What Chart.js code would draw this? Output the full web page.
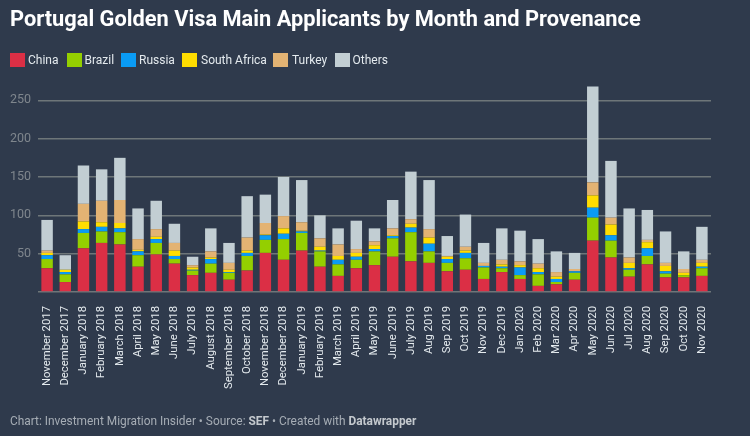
<!DOCTYPE html>
<html><head><meta charset="utf-8">
<script src="https://cdn.jsdelivr.net/npm/chart.js@4/dist/chart.umd.min.js"></script>
<style>
html,body{margin:0;padding:0;background:#2f3a4c;width:750px;height:436px;overflow:hidden;font-family:Roboto,sans-serif}
#wrap{position:relative;width:750px;height:436px}
canvas{position:absolute;left:0;top:0}
#title{position:absolute;left:10px;top:5px;font-size:21.8px;line-height:28px;font-weight:700;color:#fff;white-space:nowrap}
#legend{position:absolute;left:10px;top:52.5px;height:15px;font-size:12px;line-height:15px;color:#e4eaee;white-space:nowrap}
#legend span{position:absolute;top:0}
#legend i{position:absolute;top:0;width:14.5px;height:14.5px}
#foot{position:absolute;left:10px;top:413px;font-size:11.9px;line-height:16px;color:#a6adb5;white-space:nowrap}
#foot b{color:#c4c9ce;font-weight:700}
</style></head>
<body><div id="wrap">
<canvas id="c" width="750" height="436"></canvas>
<div id="title">Portugal Golden Visa Main Applicants by Month and Provenance</div>
<div id="legend"></div>
<div id="foot">Chart: Investment Migration Insider • Source: <b>SEF</b> • Created with <b>Datawrapper</b></div>
</div>
<script>
const months = ["November 2017","December 2017","January 2018","February 2018","March 2018","April 2018","May 2018","June 2018","July 2018","August 2018","September 2018","October 2018","November 2018","December 2018","January 2019","February 2019","March 2019","April 2019","May 2019","June 2019","July 2019","Aug 2019","Sep 2019","Oct 2019","Nov 2019","Dec 2019","Jan 2020","Feb 2020","Mar 2020","Apr 2020","May 2020","Jun 2020","Jul 2020","Aug 2020","Sep 2020","Oct 2020","Nov 2020"];
const china  = [31,13,57,64,62,33,49,37,22,25,16,28,51,42,54,33,21,31,35,46,40,38,27,29,17,26,17,8,10,16,67,45,20,36,19,19,21];
const brazil = [12,10,20,15,16,15,15,6,6,12,9,19,17,27,23,20,15,11,18,24,38,15,11,15,15,5,5,15,3,9,30,22,9,11,5,3,10];
const russia = [5,3,5,6,5,5,5,4,1,6,1,4,6,7,2,1,6,4,3,3,6,10,5,7,2,2,10,3,4,2,13,7,2,10,3,0,2];
const southAfrica = [3,3,10,6,7,2,3,7,3,2,3,3,1,7,1,5,5,5,5,1,5,8,3,3,0,3,3,5,3,0,16,14,7,8,7,3,5];
const turkey = [3,0,23,28,30,14,10,10,3,8,9,17,15,16,11,11,15,5,5,9,6,11,1,5,4,6,5,6,6,3,17,9,7,3,4,5,4];
const others = [40,19,50,41,55,40,37,25,11,30,26,54,37,51,55,30,21,37,17,37,62,64,26,42,26,41,40,32,27,21,125,74,64,39,41,23,43];
const seriesNames = ["China","Brazil","Russia","South Africa","Turkey","Others"];
const seriesValues = [china,brazil,russia,southAfrica,turkey,others];
const seriesColors = ["#db2f45","#94cf00","#0a9bf5","#ffdd00","#e3b373","#c2ced3"];
const yTicks = [0,50,100,150,200,250];

const legendPos = [[0,18],[57,74.5],[111,129],[172,191],[263,282],[325,342.5]];
const lg = document.getElementById('legend');
seriesNames.forEach((n,i)=>{
  const b=document.createElement('i');b.style.left=legendPos[i][0]+'px';b.style.background=seriesColors[i];lg.appendChild(b);
  const s=document.createElement('span');s.style.left=legendPos[i][1]+'px';s.textContent=n;lg.appendChild(s);
});

new Chart(document.getElementById('c'),{
  type:'bar',
  data:{labels:months,datasets:seriesNames.map((n,i)=>({label:n,data:seriesValues[i],backgroundColor:seriesColors[i],barPercentage:0.63,categoryPercentage:1,borderWidth:0}))},
  options:{
    responsive:false,animation:false,
    layout:{padding:{top:85,right:39,left:0,bottom:0}},
    plugins:{legend:{display:false},title:{display:false},tooltip:{enabled:false}},
    scales:{
      x:{stacked:true,
        afterFit(s){s.height=144;},
        grid:{display:false},border:{display:false},
        ticks:{autoSkip:false,minRotation:90,maxRotation:90,padding:6,color:'#e4eaee',font:{family:'Roboto',size:11.3}}},
      y:{stacked:true,min:0,max:270,
        afterFit(s){s.width=38;},
        afterBuildTicks(s){s.ticks=yTicks.map(v=>({value:v}));},
        border:{display:false},
        grid:{color:'#6e7679',lineWidth:1.5,drawTicks:false},
        ticks:{padding:7,color:'#7f868d',font:{family:'Roboto',size:12.5},callback:v=>v===0?'':v}}
    }
  }
});
</script></body></html>
